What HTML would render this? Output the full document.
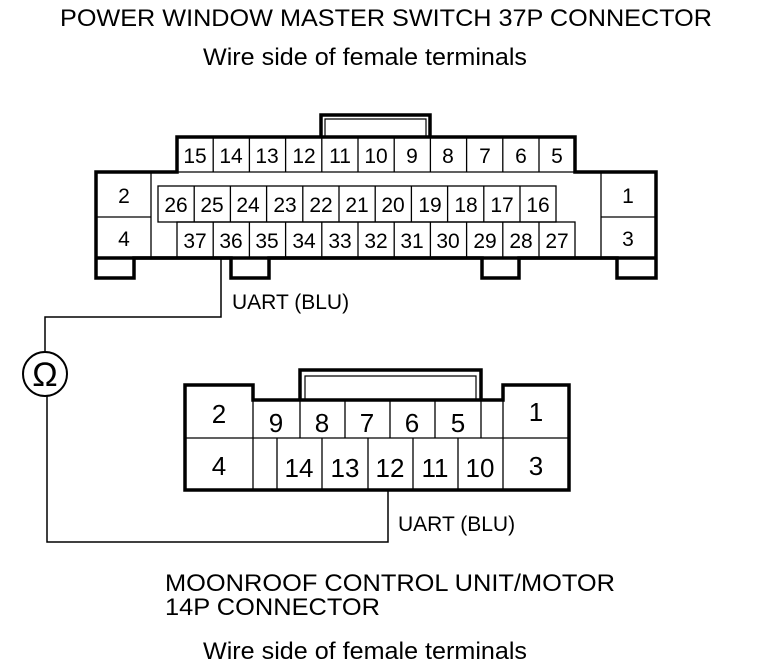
<!DOCTYPE html>
<html><head><meta charset="utf-8"><style>
html,body{margin:0;padding:0;background:#fff;}
svg{display:block;}
text{font-family:"Liberation Sans",sans-serif;fill:#000;}
.n{font-size:21px;text-anchor:middle;}
.b{font-size:26px;text-anchor:middle;}
.t{font-size:24px;}
</style></head><body>
<svg width="768" height="666" viewBox="0 0 768 666" xmlns="http://www.w3.org/2000/svg">
<text class="t" x="60" y="26" textLength="652" lengthAdjust="spacingAndGlyphs">POWER WINDOW MASTER SWITCH 37P CONNECTOR</text>
<text class="t" x="203" y="65" textLength="324" lengthAdjust="spacingAndGlyphs">Wire side of female terminals</text>

<g fill="none" stroke="#000">
<path d="M321,137 V115 H430 V137" stroke-width="3.5"/>
<path d="M325,137 V119 H426 V137" stroke-width="1.2"/>
<path d="M96,172 H177 V137 H575 V172 H656 V278 H617 V258 H519 V278 H482 V258 H269 V278 H231 V258 H134 V278 H96 Z" stroke-width="3.5"/>
<line x1="96" y1="258" x2="656" y2="258" stroke-width="3.5"/>
<g stroke-width="1.3">
<line x1="151" y1="172" x2="151" y2="258"/>
<line x1="96" y1="217" x2="151" y2="217"/>
<line x1="601" y1="172" x2="601" y2="258"/>
<line x1="601" y1="217" x2="656" y2="217"/>
<line x1="177" y1="172" x2="575" y2="172"/>
<rect x="158" y="186" width="398" height="36"/>
<rect x="177" y="222" width="398" height="36"/>
<path d="M213.2,137V172M249.4,137V172M285.6,137V172M321.8,137V172M358,137V172M394.2,137V172M430.4,137V172M466.6,137V172M502.8,137V172M539,137V172"/>
<path d="M194.2,186V222M230.4,186V222M266.6,186V222M302.8,186V222M339,186V222M375.2,186V222M411.4,186V222M447.6,186V222M483.8,186V222M520,186V222"/>
<path d="M213.2,222V258M249.4,222V258M285.6,222V258M321.8,222V258M358,222V258M394.2,222V258M430.4,222V258M466.6,222V258M502.8,222V258M539,222V258"/>
</g>
</g>
<g class="n">
<text x="195" y="163">15</text><text x="231" y="163">14</text><text x="267" y="163">13</text><text x="304" y="163">12</text><text x="340" y="163">11</text><text x="376" y="163">10</text><text x="412" y="163">9</text><text x="448" y="163">8</text><text x="485" y="163">7</text><text x="521" y="163">6</text><text x="557" y="163">5</text>
<text x="176" y="212">26</text><text x="212" y="212">25</text><text x="248" y="212">24</text><text x="285" y="212">23</text><text x="321" y="212">22</text><text x="357" y="212">21</text><text x="393" y="212">20</text><text x="430" y="212">19</text><text x="466" y="212">18</text><text x="502" y="212">17</text><text x="538" y="212">16</text>
<text x="195" y="248">37</text><text x="231" y="248">36</text><text x="267" y="248">35</text><text x="304" y="248">34</text><text x="340" y="248">33</text><text x="376" y="248">32</text><text x="412" y="248">31</text><text x="448" y="248">30</text><text x="485" y="248">29</text><text x="521" y="248">28</text><text x="557" y="248">27</text>
<text x="124" y="203">2</text><text x="124" y="246">4</text><text x="628" y="203">1</text><text x="628" y="246">3</text>
</g>
<text x="232" y="309" style="font-size:21px">UART (BLU)</text>

<g fill="none" stroke="#000" stroke-width="1.5">
<path d="M221,258 V317 H45 V351"/>
<circle cx="45" cy="374" r="22" stroke-width="2"/>
<path d="M47,396 V542 H388 V490"/>
</g>
<text x="45" y="386" style="font-size:34px;text-anchor:middle">Ω</text>

<g fill="none" stroke="#000">
<path d="M300,400 V370 H481 V400" stroke-width="3.5"/>
<path d="M305,400 V376 H476 V400" stroke-width="1.2"/>
<path d="M185,385 H253 V400 H503 V385 H569 V490 H185 Z" stroke-width="3.5"/>
<g stroke-width="1.3">
<line x1="253" y1="400" x2="253" y2="490"/>
<line x1="503" y1="400" x2="503" y2="490"/>
<line x1="185" y1="438" x2="569" y2="438"/>
<path d="M300,400V438M345,400V438M390,400V438M435,400V438M481,400V438"/>
<path d="M277,438V490M322,438V490M368,438V490M413,438V490M458,438V490"/>
</g>
</g>
<g class="b">
<text x="219" y="423">2</text><text x="219" y="475">4</text><text x="536" y="421">1</text><text x="536" y="475">3</text>
<text x="276" y="432">9</text><text x="322" y="432">8</text><text x="367" y="432">7</text><text x="412" y="432">6</text><text x="458" y="432">5</text>
<text x="299" y="477">14</text><text x="345" y="477">13</text><text x="390" y="477">12</text><text x="435" y="477">11</text><text x="480" y="477">10</text>
</g>
<text x="398" y="531" style="font-size:21px">UART (BLU)</text>

<text class="t" x="165" y="591" textLength="450" lengthAdjust="spacingAndGlyphs">MOONROOF CONTROL UNIT/MOTOR</text>
<text class="t" x="165" y="615" textLength="215" lengthAdjust="spacingAndGlyphs">14P CONNECTOR</text>
<text class="t" x="203" y="659" textLength="324" lengthAdjust="spacingAndGlyphs">Wire side of female terminals</text>
</svg>
</body></html>
